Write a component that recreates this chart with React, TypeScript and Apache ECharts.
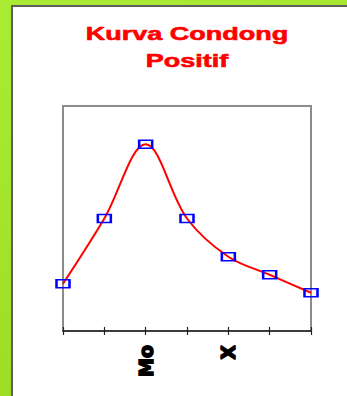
import React, { useEffect, useRef } from "react";
import * as echarts from "echarts";

// Class positions along the horizontal axis; only the mode and the mean are named.
const categories: string[] = ["", "", "Mo", "", "X", "", ""];
// Frequency heights of the positively skewed curve.
const frequencies: number[] = [21, 50, 83, 50, 33, 25, 17];
const titleLines: string[] = ["Kurva Condong", "Positif"];

export default function App() {
  const ref = useRef<HTMLDivElement>(null);

  useEffect(() => {
    if (!ref.current) return;
    const chart = echarts.init(ref.current, undefined, { renderer: "svg" });
    chart.setOption({
      animation: false,
      backgroundColor: "transparent",
      graphic: [
        {
          type: "rect",
          z: -10,
          shape: { x: 12, y: 6, width: 345, height: 400 },
          style: { fill: "#ffffff", stroke: "#5e5e5e", lineWidth: 2 },
        },
        {
          type: "text",
          x: 187,
          y: 47,
          scaleX: 1.42,
          style: {
            text: titleLines.join("\n"),
            x: 0,
            y: 0,
            align: "center",
            verticalAlign: "middle",
            fill: "#ff0000",
            stroke: "#ff0000",
            lineWidth: 0.6,
            font: "bold 19px 'Liberation Sans', Arial, sans-serif",
            lineHeight: 27,
          },
        },
      ],
      grid: {
        left: 63,
        right: 36,
        top: 106,
        bottom: 65,
        show: true,
        borderColor: "#8c8c8c",
        borderWidth: 2,
        backgroundColor: "transparent",
      },
      xAxis: [
        {
          type: "category",
          data: categories,
          boundaryGap: false,
          axisLine: { lineStyle: { color: "#222", width: 1.5 } },
          axisTick: { show: true, inside: false, length: 4, interval: 0, lineStyle: { color: "#222", width: 1.2 } },
          axisLabel: {
            interval: 0,
            rotate: 90,
            margin: 14,
            color: "#000",
            fontSize: 19,
            fontWeight: "bold",
            fontFamily: "'DejaVu Sans', sans-serif",
            textBorderColor: "#000",
            textBorderWidth: 1.5,
          },
          splitLine: { show: false },
        },
        {
          type: "category",
          data: categories,
          boundaryGap: false,
          position: "bottom",
          axisLine: { show: false },
          axisTick: { show: true, inside: true, length: 4, interval: 0, lineStyle: { color: "#222", width: 1.2 } },
          axisLabel: { show: false },
          splitLine: { show: false },
        },
      ],
      yAxis: {
        type: "value",
        min: 0,
        max: 100,
        show: false,
        splitLine: { show: false },
      },
      series: [
        {
          type: "line",
          data: frequencies,
          smooth: 0.35,
          symbol: "rect",
          symbolSize: [13, 8],
          lineStyle: { color: "#ff0000", width: 2 },
          itemStyle: { color: "rgba(255,255,255,0)", borderColor: "#0000ff", borderWidth: 2 },
          z: 3,
        },
      ],
    });
    return () => chart.dispose();
  }, []);

  return (
    <div
      style={{
        position: "fixed",
        left: 0,
        top: 0,
        width: 347,
        height: 396,
        background: "linear-gradient(160deg, #aaec34 0%, #a2e22a 50%, #98d822 100%)",
      }}
    >
      <div ref={ref} style={{ width: 347, height: 396 }} />
    </div>
  );
}
